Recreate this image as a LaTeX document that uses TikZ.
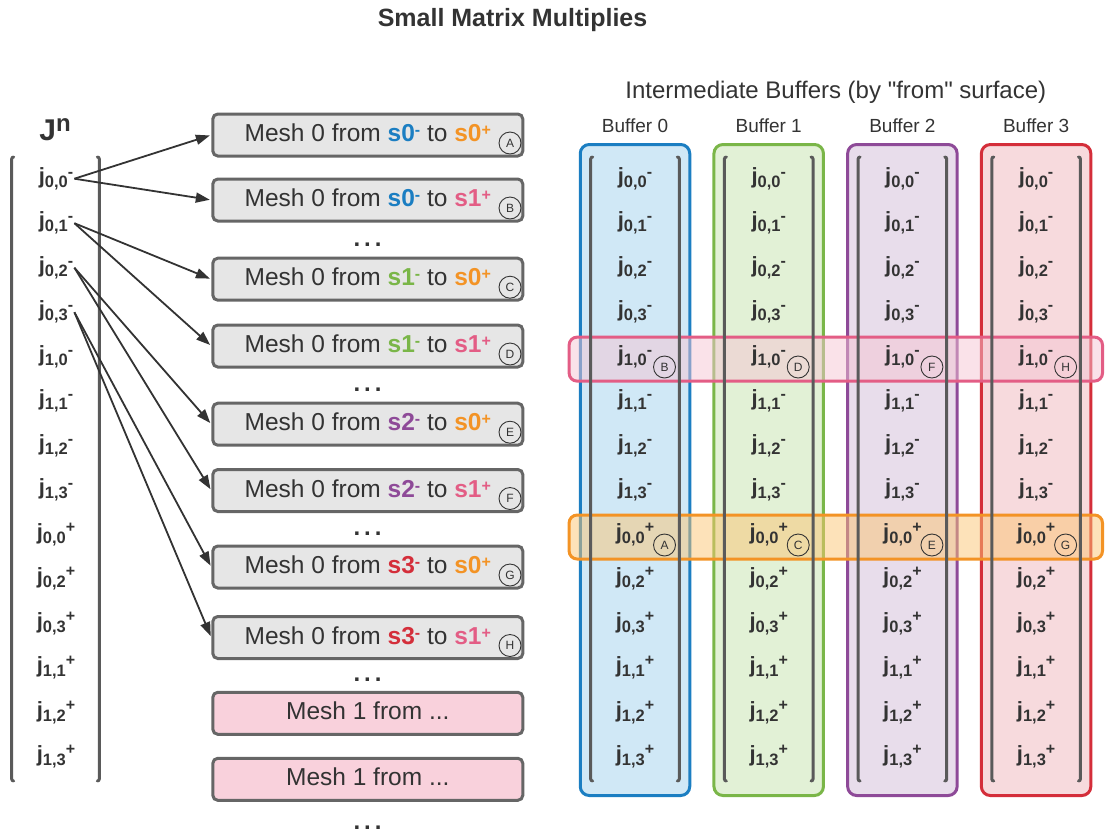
\documentclass[tikz,border=0pt]{standalone}
\usepackage{fontspec}
\setmainfont{Liberation Sans}
\usetikzlibrary{arrows.meta,calc}
\definecolor{txt}{HTML}{333333}
\definecolor{boxline}{HTML}{666666}
\definecolor{boxfill}{HTML}{E6E6E6}
\definecolor{meshpink}{HTML}{F9D1DC}
\definecolor{brkgray}{HTML}{5A5A5A}
\definecolor{bblue}{HTML}{1B7EC2}
\definecolor{bgreen}{HTML}{7AB648}
\definecolor{bpurple}{HTML}{8E4A98}
\definecolor{bred}{HTML}{D42E3A}
\definecolor{fblue}{HTML}{D0E8F6}
\definecolor{fgreen}{HTML}{E2F1D6}
\definecolor{fpurple}{HTML}{E8DDEB}
\definecolor{fred}{HTML}{F7DADD}
\definecolor{sorange}{HTML}{F39325}
\definecolor{spink}{HTML}{E35D85}
\definecolor{hlpink}{HTML}{F5C5D3}
\definecolor{hlorange}{HTML}{FBC573}
\newcommand\jj[4]{{\fontsize{22}{22}\selectfont\bfseries j}\raisebox{-4pt}{\fontsize{16.5}{16.5}\selectfont\bfseries #1,#2}\raisebox{#4}{\fontsize{16}{16}\selectfont\bfseries #3}}
\newcommand\sv[3]{\textcolor{#1}{\textbf{s#2}\raisebox{6pt}{\fontsize{16}{16}\selectfont\bfseries #3}}}
\begin{document}
\begin{tikzpicture}[x=1pt,y=-1pt,
  meshbox/.style={draw=boxline, line width=3pt, rounded corners=5pt, fill=boxfill,
    minimum width=310pt, minimum height=42pt, inner sep=0pt, text height=17.5pt, text depth=4.5pt,
    font=\fontsize{24.5}{24.5}\selectfont, text=txt},
  pinkbox/.style={meshbox, fill=meshpink},
  circ/.style={circle, draw=txt, line width=0.9pt, minimum size=22pt, inner sep=0pt,
    font=\fontsize{12}{12}\selectfont, text=txt},
  jent/.style={anchor=base, inner sep=1pt, text=txt},
  bufbox/.style={rounded corners=9pt, line width=3pt, minimum width=109.5pt, minimum height=651pt, inner sep=0pt},
  hlrow/.style={rounded corners=8pt, line width=3pt, minimum width=533.4pt, minimum height=44pt, inner sep=0pt, fill opacity=0.5},
  brk/.style={draw=brkgray, line width=3pt, rounded corners=2pt, line cap=round},
  lbl/.style={anchor=base, inner sep=0pt, text=txt},
  dots/.style={anchor=base, inner sep=0pt, text=txt, font=\fontsize{24}{24}\selectfont\bfseries},
  arr/.style={draw=txt, line width=1.8pt, -{Triangle[length=14pt,width=10pt]}, shorten >=1.5pt}
]
\useasboundingbox (0,0) rectangle (1105,836);

% titles
\node[lbl, font=\fontsize{25}{25}\selectfont\bfseries] (title) at (512.5,26) {Small Matrix Multiplies};
\node[lbl, font=\fontsize{24}{24}\selectfont] (ibuf) at (835.8,98.8) {Intermediate Buffers (by \textquotedbl from\textquotedbl\ surface)};
\node[lbl] (Jn) at (55,140.7) {{\fontsize{30}{30}\selectfont\bfseries J}\raisebox{9pt}{\fontsize{24}{24}\selectfont\bfseries n}};

% buffer boxes
\node[bufbox, draw=bblue, fill=fblue] (buf0) at (635,470) {};
\node[bufbox, draw=bgreen, fill=fgreen] (buf1) at (768.7,470) {};
\node[bufbox, draw=bpurple, fill=fpurple] (buf2) at (902.4,470) {};
\node[bufbox, draw=bred, fill=fred] (buf3) at (1036.1,470) {};
\foreach \c/\k in {635/0,768.7/1,902.4/2,1036.1/3}{
  \node[lbl, font=\fontsize{19}{19}\selectfont] (bl\k) at (\c,132.6) {Buffer \k};
}

% highlight rows
\node[hlrow, draw=spink, fill=hlpink] (rowpink) at (835.8,359.1) {};
\node[hlrow, draw=sorange, fill=hlorange] (roworange) at (835.8,537) {};

% brackets
\foreach \x in {11.7, 590.7, 724.4, 858.1, 991.8}{
  \draw[brk] (\x+2,157) -- (\x,157) -- (\x,781) -- (\x+2,781);
}
\foreach \x in {99.3, 679.3, 813, 946.7, 1080.4}{
  \draw[brk] (\x-2,157) -- (\x,157) -- (\x,781) -- (\x-2,781);
}

% entries
\foreach \a/\b/\sg/\r [count=\i from 0] in {0/0/-/6pt,0/1/-/6pt,0/2/-/6pt,0/3/-/6pt,1/0/-/6pt,1/1/-/6pt,1/2/-/6pt,1/3/-/6pt,0/0/+/7pt,0/2/+/7pt,0/3/+/7pt,1/1/+/7pt,1/2/+/7pt,1/3/+/7pt}{
  \pgfmathsetmacro\yy{178+44.5*\i+5.4}
  \node[jent] (L\i) at (56,\yy) {\jj{\a}{\b}{\sg}{\r}};
  \foreach \c [count=\k from 0] in {635,768.7,902.4,1036.1}{
    \node[jent] (B\k-\i) at (\c,\yy) {\jj{\a}{\b}{\sg}{\r}};
  }
}

% circle labels in buffers
\node[circ] (bB) at (664.5,367) {B};
\node[circ] (bD) at (798.2,367) {D};
\node[circ] (bF) at (931.9,367) {F};
\node[circ] (bH) at (1065.6,367) {H};
\node[circ] (bA) at (664.5,545) {A};
\node[circ] (bC) at (798.2,545) {C};
\node[circ] (bE) at (931.9,545) {E};
\node[circ] (bG) at (1065.6,545) {G};

% mesh boxes
\node[meshbox] (A) at (367.8,135) {Mesh 0 from \sv{bblue}{0}{-} to \sv{sorange}{0}{+}};
\node[meshbox] (B) at (367.8,200) {Mesh 0 from \sv{bblue}{0}{-} to \sv{spink}{1}{+}};
\node[meshbox] (C) at (367.8,279.2) {Mesh 0 from \sv{bgreen}{1}{-} to \sv{sorange}{0}{+}};
\node[meshbox] (D) at (367.8,346) {Mesh 0 from \sv{bgreen}{1}{-} to \sv{spink}{1}{+}};
\node[meshbox] (E) at (367.8,424.2) {Mesh 0 from \sv{bpurple}{2}{-} to \sv{sorange}{0}{+}};
\node[meshbox] (F) at (367.8,490.5) {Mesh 0 from \sv{bpurple}{2}{-} to \sv{spink}{1}{+}};
\node[meshbox] (G) at (367.8,567) {Mesh 0 from \sv{bred}{3}{-} to \sv{sorange}{0}{+}};
\node[meshbox] (H) at (367.8,637.5) {Mesh 0 from \sv{bred}{3}{-} to \sv{spink}{1}{+}};
\node[pinkbox] (M1) at (367.8,713.3) {Mesh 1 from ...};
\node[pinkbox] (M2) at (367.8,779.3) {Mesh 1 from ...};

\foreach \n in {A,B,C,D,E,F,G,H}{
  \node[circ] (c\n) at ($(\n.center)+(142.2,8)$) {\n};
}

% dots
\node[dots] (d1) at (367.5,246) {.\kern4pt.\kern4pt.};
\node[dots] (d2) at (367.5,391.5) {.\kern4pt.\kern4pt.};
\node[dots] (d3) at (367.5,535.5) {.\kern4pt.\kern4pt.};
\node[dots] (d4) at (367.5,681.7) {.\kern4pt.\kern4pt.};
\node[dots] (d5) at (367.5,829.3) {.\kern4pt.\kern4pt.};

% arrows
\draw[arr] (L0.east) -- (A.west);
\draw[arr] (L0.east) -- (B.west);
\draw[arr] (L1.east) -- (C.west);
\draw[arr] (L1.east) -- (D.west);
\draw[arr] (L2.east) -- (E.west);
\draw[arr] (L2.east) -- (F.west);
\draw[arr] (L3.east) -- (G.west);
\draw[arr] (L3.east) -- (H.west);
\end{tikzpicture}
\end{document}
